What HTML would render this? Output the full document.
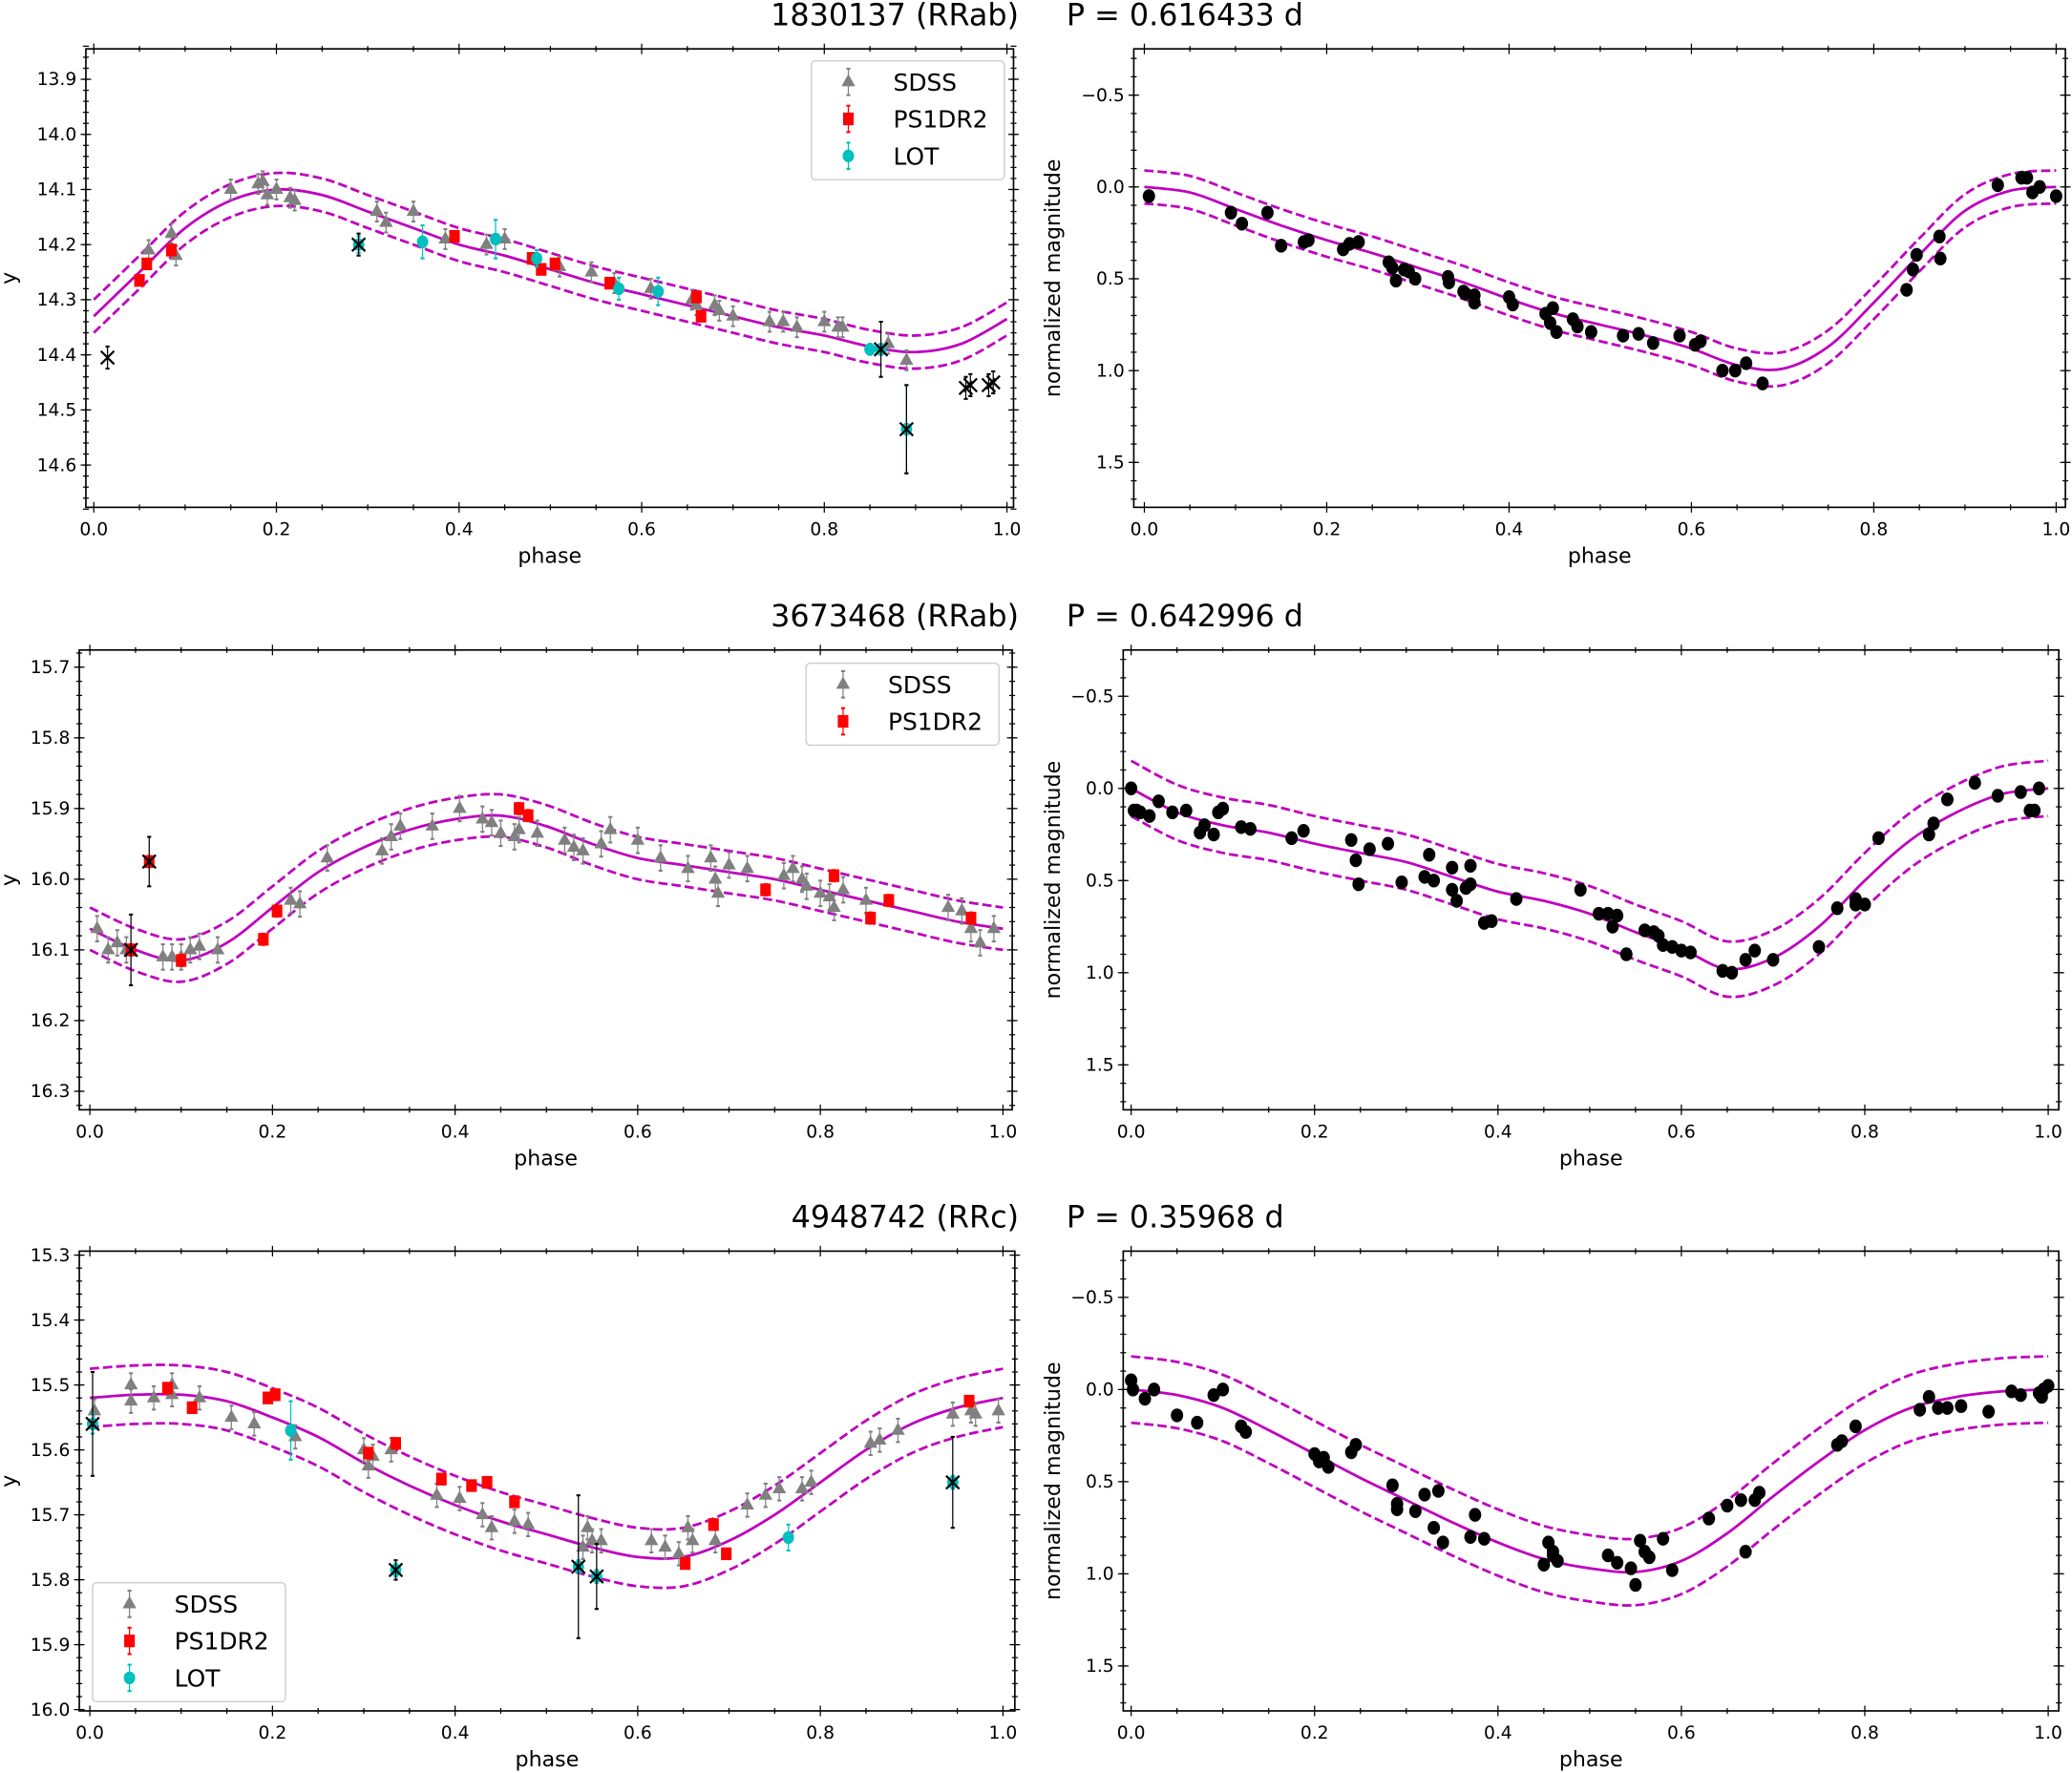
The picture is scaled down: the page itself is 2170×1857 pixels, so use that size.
<!DOCTYPE html>
<html><head><meta charset="utf-8"><title>RR Lyrae light curves</title>
<style>html,body{margin:0;padding:0;background:#fff}svg{display:block}text{font-family:"DejaVu Sans","Liberation Sans",sans-serif}</style></head>
<body>
<svg id="fig" xmlns="http://www.w3.org/2000/svg" width="2170" height="1857" viewBox="0 0 1568 1342" preserveAspectRatio="none"></svg>
<script>
// ---- shared model phases ----
const modelPhase=[0,0.05,0.1,0.15,0.2,0.25,0.3,0.35,0.4,0.45,0.5,0.55,0.6,0.65,0.7,0.75,0.8,0.85,0.9,0.95,1.0];
// ---- row 1 : 1830137 ----
const m1Left=[14.33,14.25,14.17,14.12,14.10,14.11,14.14,14.17,14.20,14.22,14.245,14.27,14.29,14.31,14.33,14.35,14.365,14.385,14.395,14.38,14.335];
const m1Right=[0,0.03,0.12,0.21,0.29,0.36,0.44,0.52,0.61,0.69,0.75,0.81,0.88,0.97,0.99,0.87,0.63,0.37,0.13,0.02,0];
const band1Left=0.03, band1Right=0.09;
const sdss1=[[0.06,14.21],[0.085,14.18],[0.09,14.22],[0.15,14.10],[0.18,14.09],[0.185,14.085],[0.19,14.11],[0.2,14.1],[0.215,14.115],[0.22,14.12],[0.31,14.14],[0.32,14.16],[0.35,14.14],[0.385,14.19],[0.43,14.2],[0.45,14.19],[0.51,14.24],[0.545,14.25],[0.57,14.27],[0.61,14.28],[0.655,14.3],[0.66,14.31],[0.68,14.31],[0.685,14.32],[0.7,14.33],[0.74,14.34],[0.755,14.34],[0.77,14.35],[0.8,14.34],[0.815,14.35],[0.82,14.35],[0.87,14.38],[0.89,14.41]];
const ps1_1=[[0.05,14.265],[0.058,14.235],[0.085,14.21],[0.395,14.185],[0.48,14.225],[0.49,14.245],[0.505,14.235],[0.565,14.27],[0.66,14.295],[0.665,14.33]];
const lot1=[[0.36,14.195,0.03],[0.44,14.19,0.035],[0.485,14.225,0.015],[0.575,14.28,0.02],[0.618,14.285,0.025],[0.85,14.39,0.01],[0.29,14.2,0.015],[0.862,14.39,0.01],[0.89,14.535,0.08]];
const rej1=[[0.015,14.405,0.02],[0.29,14.2,0.02],[0.862,14.39,0.05],[0.89,14.535,0.08],[0.955,14.46,0.02],[0.96,14.455,0.02],[0.98,14.455,0.02],[0.985,14.45,0.02]];
const norm1=[[0.005,0.05],[0.095,0.14],[0.107,0.2],[0.135,0.14],[0.15,0.32],[0.175,0.3],[0.18,0.29],[0.218,0.34],[0.225,0.31],[0.235,0.3],[0.268,0.41],[0.272,0.44],[0.276,0.51],[0.285,0.45],[0.29,0.46],[0.297,0.5],[0.333,0.49],[0.334,0.52],[0.35,0.57],[0.352,0.58],[0.362,0.59],[0.362,0.63],[0.4,0.6],[0.404,0.64],[0.44,0.69],[0.445,0.74],[0.448,0.66],[0.452,0.79],[0.47,0.72],[0.475,0.76],[0.49,0.79],[0.525,0.81],[0.542,0.8],[0.558,0.85],[0.587,0.81],[0.604,0.86],[0.61,0.84],[0.634,1.0],[0.648,1.0],[0.66,0.96],[0.678,1.07],[0.836,0.56],[0.843,0.45],[0.847,0.37],[0.872,0.27],[0.873,0.39],[0.936,-0.01],[0.962,-0.05],[0.968,-0.05],[0.974,0.03],[0.982,0.0],[1.0,0.05]];
// ---- row 2 : 3673468 ----
const m2Left=[16.07,16.10,16.115,16.09,16.04,15.99,15.955,15.93,15.915,15.91,15.925,15.95,15.97,15.98,15.99,16.0,16.015,16.03,16.045,16.06,16.07];
const m2Right=[0,0.13,0.2,0.24,0.3,0.35,0.4,0.48,0.56,0.61,0.68,0.78,0.87,0.98,0.92,0.75,0.5,0.28,0.13,0.03,0];
const band2Left=0.03, band2Right=0.15;
const sdss2=[[0.008,16.07],[0.02,16.1],[0.03,16.09],[0.04,16.1],[0.08,16.11],[0.09,16.11],[0.1,16.11],[0.11,16.1],[0.12,16.095],[0.14,16.1],[0.22,16.03],[0.23,16.035],[0.26,15.97],[0.32,15.96],[0.33,15.94],[0.34,15.925],[0.375,15.925],[0.405,15.9],[0.43,15.915],[0.44,15.92],[0.45,15.935],[0.465,15.94],[0.47,15.93],[0.49,15.935],[0.52,15.945],[0.53,15.955],[0.54,15.96],[0.56,15.95],[0.57,15.93],[0.6,15.945],[0.625,15.97],[0.655,15.985],[0.68,15.97],[0.685,16.0],[0.688,16.02],[0.7,15.98],[0.72,15.985],[0.76,15.995],[0.77,15.985],[0.78,16.0],[0.785,16.01],[0.8,16.02],[0.81,16.025],[0.815,16.04],[0.825,16.015],[0.85,16.03],[0.94,16.04],[0.955,16.045],[0.965,16.07],[0.975,16.09],[0.99,16.07]];
const ps1_2=[[0.045,16.1],[0.065,15.975],[0.1,16.115],[0.19,16.085],[0.205,16.045],[0.47,15.9],[0.48,15.91],[0.74,16.015],[0.815,15.995],[0.855,16.055],[0.875,16.03],[0.965,16.055]];
const lot2=[];
const rej2=[[0.045,16.1,0.05],[0.065,15.975,0.035]];
const norm2=[[0.0,0.0],[0.003,0.12],[0.006,0.12],[0.01,0.13],[0.02,0.15],[0.03,0.07],[0.045,0.13],[0.06,0.12],[0.075,0.24],[0.08,0.2],[0.09,0.25],[0.095,0.13],[0.1,0.11],[0.12,0.21],[0.13,0.22],[0.175,0.27],[0.188,0.23],[0.24,0.28],[0.245,0.39],[0.248,0.52],[0.26,0.33],[0.28,0.3],[0.295,0.51],[0.32,0.48],[0.325,0.36],[0.33,0.5],[0.35,0.43],[0.35,0.55],[0.355,0.61],[0.365,0.54],[0.37,0.42],[0.37,0.52],[0.385,0.73],[0.393,0.72],[0.42,0.6],[0.49,0.55],[0.51,0.68],[0.52,0.68],[0.525,0.75],[0.53,0.69],[0.54,0.9],[0.56,0.77],[0.57,0.78],[0.575,0.8],[0.58,0.85],[0.59,0.86],[0.6,0.88],[0.61,0.89],[0.645,0.99],[0.655,1.0],[0.67,0.93],[0.68,0.88],[0.7,0.93],[0.75,0.86],[0.77,0.65],[0.79,0.6],[0.79,0.63],[0.8,0.63],[0.815,0.27],[0.87,0.25],[0.875,0.19],[0.89,0.06],[0.92,-0.03],[0.945,0.04],[0.97,0.02],[0.98,0.12],[0.985,0.12],[0.99,0.0]];
// ---- row 3 : 4948742 ----
const m3Left=[15.52,15.515,15.515,15.525,15.55,15.58,15.62,15.655,15.685,15.71,15.73,15.75,15.765,15.765,15.74,15.70,15.65,15.6,15.56,15.535,15.52];
const m3Right=[0,0.03,0.1,0.22,0.35,0.48,0.6,0.72,0.83,0.92,0.97,0.99,0.93,0.78,0.58,0.39,0.22,0.1,0.04,0.01,0];
const band3Left=0.045, band3Right=0.18;
const sdss3=[[0.005,15.54],[0.045,15.5],[0.045,15.525],[0.07,15.52],[0.09,15.515],[0.09,15.5],[0.12,15.52],[0.155,15.55],[0.18,15.56],[0.225,15.58],[0.3,15.6],[0.305,15.625],[0.31,15.61],[0.33,15.6],[0.38,15.67],[0.405,15.675],[0.43,15.7],[0.44,15.72],[0.465,15.71],[0.48,15.715],[0.54,15.75],[0.545,15.72],[0.55,15.74],[0.56,15.74],[0.615,15.74],[0.63,15.75],[0.645,15.76],[0.655,15.72],[0.66,15.74],[0.685,15.74],[0.72,15.685],[0.74,15.67],[0.755,15.66],[0.78,15.66],[0.79,15.65],[0.855,15.59],[0.865,15.585],[0.885,15.57],[0.945,15.545],[0.965,15.54],[0.97,15.545],[0.995,15.54]];
const ps1_3=[[0.085,15.505],[0.112,15.535],[0.195,15.52],[0.203,15.515],[0.305,15.605],[0.335,15.59],[0.385,15.645],[0.418,15.655],[0.435,15.65],[0.465,15.68],[0.652,15.775],[0.683,15.715],[0.697,15.76],[0.963,15.525]];
const lot3=[[0.003,15.56,0.015],[0.22,15.57,0.045],[0.765,15.735,0.02],[0.335,15.785,0.01],[0.535,15.78,0.01],[0.555,15.795,0.01],[0.945,15.65,0.01]];
const rej3=[[0.003,15.56,0.08],[0.335,15.785,0.015],[0.535,15.78,0.11],[0.555,15.795,0.05],[0.945,15.65,0.07]];
const norm3=[[0.0,-0.05],[0.002,0.0],[0.015,0.05],[0.025,0.0],[0.05,0.14],[0.072,0.18],[0.09,0.03],[0.1,0.0],[0.12,0.2],[0.125,0.23],[0.2,0.35],[0.205,0.39],[0.21,0.37],[0.215,0.42],[0.24,0.34],[0.245,0.3],[0.285,0.52],[0.29,0.62],[0.29,0.65],[0.31,0.66],[0.32,0.57],[0.33,0.75],[0.335,0.55],[0.34,0.83],[0.37,0.8],[0.375,0.68],[0.385,0.81],[0.45,0.95],[0.455,0.83],[0.46,0.9],[0.465,0.93],[0.46,0.88],[0.52,0.9],[0.53,0.94],[0.545,0.97],[0.55,1.06],[0.555,0.82],[0.56,0.88],[0.565,0.91],[0.58,0.81],[0.59,0.98],[0.63,0.7],[0.65,0.63],[0.665,0.6],[0.67,0.88],[0.68,0.6],[0.685,0.56],[0.77,0.3],[0.775,0.28],[0.79,0.2],[0.86,0.11],[0.87,0.04],[0.88,0.1],[0.89,0.1],[0.905,0.09],[0.935,0.12],[0.96,0.01],[0.97,0.03],[0.99,0.02],[0.993,0.04],[0.995,0.0],[1.0,-0.02]];
const xTicks=[0,0.2,0.4,0.6,0.8,1.0];
const xTickLabels=["0.0","0.2","0.4","0.6","0.8","1.0"];
const yTicks1=[13.9,14.0,14.1,14.2,14.3,14.4,14.5,14.6];
const yTicks2=[15.7,15.8,15.9,16.0,16.1,16.2,16.3];
const yTicks3=[15.3,15.4,15.5,15.6,15.7,15.8,15.9,16.0];
const normTicks=[-0.5,0.0,0.5,1.0,1.5];
const normTickLabels=["\u22120.5","0.0","0.5","1.0","1.5"];
const titles=[["1830137 (RRab)","P = 0.616433 d"],["3673468 (RRab)","P = 0.642996 d"],["4948742 (RRc)","P = 0.35968 d"]];

const NS="http://www.w3.org/2000/svg";
const svg=document.getElementById('fig');
function el(tag,attrs,parent){const e=document.createElementNS(NS,tag);for(const k in attrs)e.setAttribute(k,attrs[k]);(parent||svg).appendChild(e);return e;}
function lin(d0,d1,r0,r1){return v=>r0+(v-d0)*(r1-r0)/(d1-d0);}
function fmt(v){return v.toFixed(1);}

const rows=[{top:37,bot:384,title:19},{top:492,bot:840,title:474},{top:947,bot:1295,title:929}];
const LG=[{left:65,right:767,p0:71,p1:762},{left:60,right:766,p0:68,p1:759},{left:60,right:768,p0:68,p1:759}];
const RG=[{left:858,right:1563,p0:866,p1:1556},{left:850,right:1558,p0:856,p1:1550},{left:850,right:1558,p0:856,p1:1550}];

function smoothPath(pts){let d=`M${pts[0][0]},${pts[0][1]}`;for(let i=0;i<pts.length-1;i++){const p0=pts[Math.max(0,i-1)],p1=pts[i],p2=pts[i+1],p3=pts[Math.min(pts.length-1,i+2)];d+=` C${p1[0]+(p2[0]-p0[0])/6},${p1[1]+(p2[1]-p0[1])/6} ${p2[0]-(p3[0]-p1[0])/6},${p2[1]-(p3[1]-p1[1])/6} ${p2[0]},${p2[1]}`;}return d;}

function axes(g,geo,top,bot,sx,sy,yTicks,yLabels,yMinorStep,yMin,yMax,xlabel,ylabel,ylx){
  const fr=el('rect',{x:geo.left,y:top,width:geo.right-geo.left,height:bot-top,fill:'none',stroke:'#000','stroke-width':1.2},g);
  
  const tk=el('g',{stroke:'#000','stroke-width':0.9},g);
  
  for(let k=0;k<=20;k++){const v=k*0.05;const x=sx(v);const maj=k%4===0;const len=maj?4:2.2;
    el('line',{x1:x,y1:bot-len,x2:x,y2:bot+len},tk);el('line',{x1:x,y1:top-len,x2:x,y2:top+len},tk);}
  for(let v=Math.ceil(yMin/yMinorStep-1e-6)*yMinorStep;v<=yMax+1e-9;v+=yMinorStep){const y=sy(v);
    el('line',{x1:geo.left-2.2,y1:y,x2:geo.left+2.2,y2:y},tk);el('line',{x1:geo.right-2.2,y1:y,x2:geo.right+2.2,y2:y},tk);}
  yTicks.forEach((v,i)=>{const y=sy(v);el('line',{x1:geo.left-4,y1:y,x2:geo.left+4,y2:y},tk);el('line',{x1:geo.right-4,y1:y,x2:geo.right+4,y2:y},tk);
    const t=el('text',{x:geo.left-7,y:y+4.5,'font-size':13.5,'text-anchor':'end'},g);t.textContent=yLabels[i];
    });
  xTicks.forEach((v,i)=>{const t=el('text',{x:sx(v),y:bot+21,'font-size':13.5,'text-anchor':'middle'},g);t.textContent=xTickLabels[i];
    });
  const xl=el('text',{x:(geo.left+geo.right)/2,y:bot+42,'font-size':16,'text-anchor':'middle'},g);xl.textContent=xlabel;
  
  const yl=el('text',{x:ylx,y:(top+bot)/2,'font-size':16,'text-anchor':'middle',transform:`rotate(-90 ${ylx} ${(top+bot)/2})`},g);yl.textContent=ylabel;
  
}
function curves(g,sx,sy,model,band){
  const mk=(off)=>smoothPath(modelPhase.map((p,i)=>[sx(p),sy(model[i]+off)]));
  const c=el('path',{d:mk(0),fill:'none',stroke:'#bf00bf','stroke-width':2},g);
  
  const u=el('path',{d:mk(-band),fill:'none',stroke:'#bf00bf','stroke-width':2,'stroke-dasharray':'7,3'},g);
  
  const l=el('path',{d:mk(band),fill:'none',stroke:'#bf00bf','stroke-width':2,'stroke-dasharray':'7,3'},g);
  
}
function errbar(g,x,y1,y2,color){el('line',{x1:x,y1:y1,x2:x,y2:y2,stroke:color,'stroke-width':0.9},g);el('line',{x1:x-1.5,y1:y1,x2:x+1.5,y2:y1,stroke:color,'stroke-width':1.5},g);el('line',{x1:x-1.5,y1:y2,x2:x+1.5,y2:y2,stroke:color,'stroke-width':1.5},g);}
function tri(g,x,y,c){return el('path',{d:`M${x},${y-6} L${x+5.2},${y+3.3} L${x-5.2},${y+3.3} Z`,fill:c},g);}
function sq(g,x,y){return el('rect',{x:x-4,y:y-4.8,width:8,height:9.6,fill:'#ff0000'},g);}
function dot(g,x,y,c,r){return el('ellipse',{cx:x,cy:y,rx:r*0.9,ry:r,fill:c},g);}

function leftPanel(ri,yTicks,yMin,yMax,model,band,sdss,ps1,lot,rej,legend){
  const r=rows[ri];const L=LG[ri];const sx=lin(0,1,L.p0,L.p1);
  const sy=lin(yTicks[0],yTicks[yTicks.length-1],r.top+(ri===0?23:ri===1?13:3),r.bot-(ri===0?32:ri===1?14:1));
  const g=el('g',{});
  axes(g,L,r.top,r.bot,sx,sy,yTicks,yTicks.map(fmt),0.02,yMin,yMax,'phase','y',12);
  curves(g,sx,sy,model,band);
  const gs=el('g',{},g);
  sdss.forEach(d=>{const x=sx(d[0]),y=sy(d[1]);errbar(gs,x,sy(d[1]-0.018),sy(d[1]+0.018),'#808080');const m=tri(gs,x,y,'#808080');
    });
  const gp=el('g',{},g);
  ps1.forEach(d=>{const x=sx(d[0]),y=sy(d[1]);errbar(gp,x,sy(d[1]-0.008),sy(d[1]+0.008),'#ff0000');const m=sq(gp,x,y);
    });
  const gl=el('g',{},g);
  lot.forEach(d=>{const x=sx(d[0]),y=sy(d[1]);errbar(gl,x,sy(d[1]-d[2]),sy(d[1]+d[2]),'#00bfbf');const m=dot(gl,x,y,'#00bfbf',4.8);
    });
  const gx=el('g',{},g);
  rej.forEach(d=>{const x=sx(d[0]),y=sy(d[1]);errbar(gx,x,sy(d[1]-d[2]),sy(d[1]+d[2]),'#000');
    const m=el('path',{d:`M${x-5},${y-5} L${x+5},${y+5} M${x-5},${y+5} L${x+5},${y-5}`,stroke:'#000','stroke-width':1.6,fill:'none'},gx);
    });
  const lg=el('g',{},g);
  el('rect',{x:legend.x,y:legend.y,width:146,height:legend.n*28+6,rx:3,fill:'#fff','fill-opacity':0.85,stroke:'#ccc','stroke-width':1},lg);
  const names=['SDSS','PS1DR2','LOT'];
  for(let i=0;i<legend.n;i++){const yy=legend.y+16+i*28;const mx=legend.x+28;
    const e=el('g',{},lg);
    if(i===0){errbar(e,mx,yy-10,yy+10,'#808080');tri(e,mx,yy,'#808080');}
    if(i===1){errbar(e,mx,yy-10,yy+10,'#ff0000');sq(e,mx,yy);}
    if(i===2){errbar(e,mx,yy-10,yy+10,'#00bfbf');dot(e,mx,yy,'#00bfbf',4.8);}
    const t=el('text',{x:legend.x+62,y:yy+6.5,'font-size':18},e);t.textContent=names[i];}
  const t=el('text',{x:771,y:r.title,'font-size':23,'text-anchor':'end'});t.textContent=titles[ri][0];
  
}
function rightPanel(ri,model,band,pts){
  const r=rows[ri];const R=RG[ri];const sx=lin(0,1,R.p0,R.p1);
  const sy=lin(-0.5,1.5,r.top+35,r.bot-34);
  const g=el('g',{});
  axes(g,R,r.top,r.bot,sx,sy,normTicks,normTickLabels,0.1,-0.75,1.75,'phase','normalized magnitude',802);
  curves(g,sx,sy,model,band);
  const gp=el('g',{},g);
  pts.forEach(d=>{const m=dot(gp,sx(d[0]),sy(d[1]),'#000',5.2);});
  const t=el('text',{x:807,y:r.title,'font-size':23});t.textContent=titles[ri][1];
  
}
leftPanel(0,yTicks1,13.84,14.68,m1Left,band1Left,sdss1,ps1_1,lot1,rej1,{x:614,y:46,n:3});
rightPanel(0,m1Right,band1Right,norm1);
leftPanel(1,yTicks2,15.68,16.32,m2Left,band2Left,sdss2,ps1_2,lot2,rej2,{x:610,y:502,n:2});
rightPanel(1,m2Right,band2Right,norm2);
leftPanel(2,yTicks3,15.3,16.0,m3Left,band3Left,sdss3,ps1_3,lot3,rej3,{x:70,y:1198,n:3});
rightPanel(2,m3Right,band3Right,norm3);
</script>
</body></html>
